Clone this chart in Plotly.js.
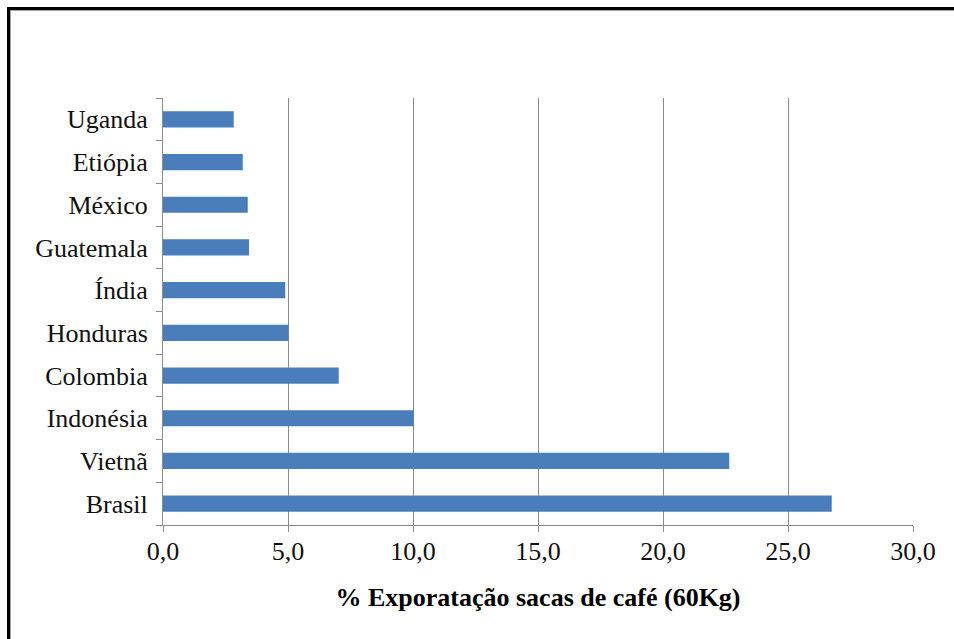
<!DOCTYPE html>
<html>
<head>
<meta charset="utf-8">
<script src="https://cdn.plot.ly/plotly-3.0.1.min.js"></script>
<style>
  html, body { margin: 0; padding: 0; background: #fff; }
  #wrap { position: relative; width: 954px; height: 639px; overflow: hidden; }
  #chart { position: absolute; left: 0; top: 0; width: 954px; height: 639px; }
  #frame {
    position: absolute; left: 7px; top: 7px; width: 960px; height: 650px;
    border-top: 3px solid #000; border-left: 3px solid #000;
    box-shadow: inset 1px 1px 0 #a0a0a0; pointer-events: none;
  }
</style>
</head>
<body>
<div id="wrap">
  <div id="chart"></div>
  <div id="frame"></div>
</div>
<script>
// Share of coffee-bag exports by country (bottom to top)
const countries = ["Brasil", "Vietnã", "Indonésia", "Colombia", "Honduras",
                   "Índia", "Guatemala", "México", "Etiópia", "Uganda"];
const shares = [26.75, 22.65, 10.03, 7.03, 5.02, 4.89, 3.44, 3.39, 3.19, 2.83];
const xTicks = [0, 5, 10, 15, 20, 25, 30];
const xTickLabels = ["0,0", "5,0", "10,0", "15,0", "20,0", "25,0", "30,0"];
const axisTitle = "% Exporatação sacas de café (60Kg)";

const serif = "Liberation Serif, Times New Roman, serif";

const trace = {
  type: "bar",
  orientation: "h",
  x: shares,
  y: countries,
  marker: { color: "#4a7ebb", line: { width: 0 } },
  hoverinfo: "x+y"
};

const layout = {
  width: 954,
  height: 639,
  paper_bgcolor: "#ffffff",
  plot_bgcolor: "#ffffff",
  margin: { l: 163, r: 41, t: 98, b: 114 },
  bargap: 0.62,
  showlegend: false,
  font: { family: serif, color: "#000" },
  xaxis: {
    range: [0, 30],
    tickvals: xTicks,
    ticktext: xTickLabels,
    showgrid: true,
    gridcolor: "#8c8c8c",
    gridwidth: 1,
    zeroline: false,
    showline: true,
    linecolor: "#8c8c8c",
    linewidth: 1,
    ticks: "outside",
    ticklen: 6,
    tickcolor: "#8c8c8c",
    tickfont: { family: serif, size: 26, color: "#111" },
    ticklabelstandoff: -3,
    title: {
      text: "<b>" + axisTitle + "</b>",
      font: { family: serif, size: 26, color: "#000" },
      standoff: 22
    },
    fixedrange: true
  },
  yaxis: {
    type: "category",
    showgrid: false,
    zeroline: false,
    showline: true,
    linecolor: "#8c8c8c",
    linewidth: 1,
    ticks: "outside",
    tickson: "boundaries",
    ticklen: 6,
    tickcolor: "#8c8c8c",
    tickfont: { family: serif, size: 26, color: "#111" },
    ticklabelstandoff: 9,
    fixedrange: true
  }
};

Plotly.newPlot("chart", [trace], layout, { displayModeBar: false, staticPlot: true });
</script>
</body>
</html>
